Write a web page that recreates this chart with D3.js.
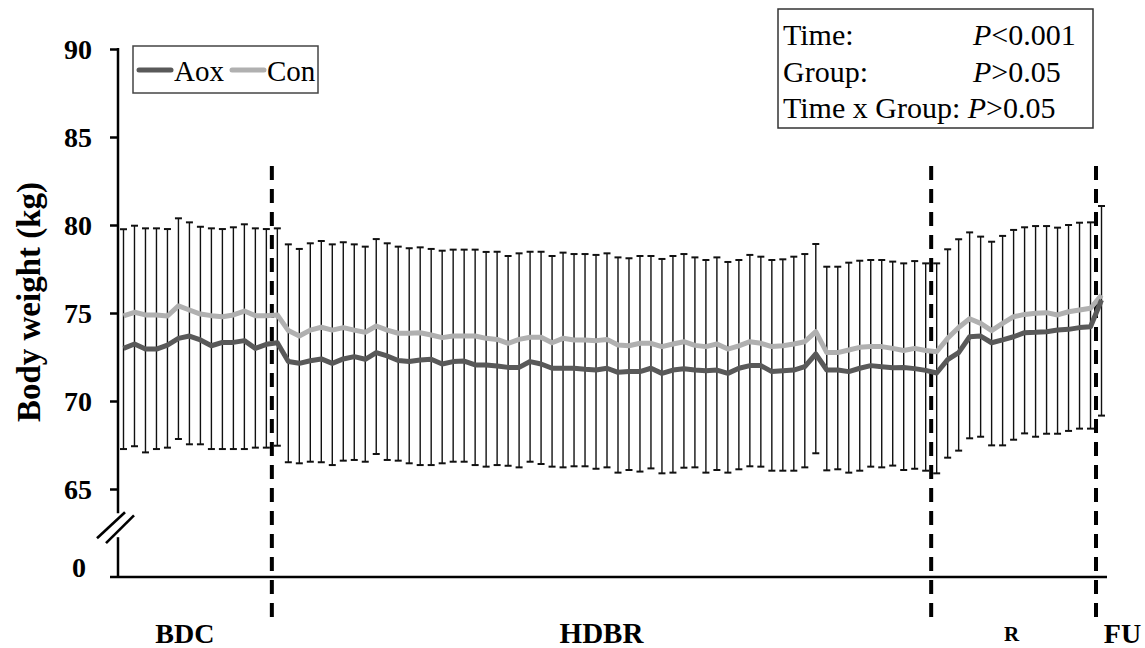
<!DOCTYPE html>
<html>
<head>
<meta charset="utf-8">
<script src="https://cdn.jsdelivr.net/npm/d3@7/dist/d3.min.js"></script>
<style>
  html, body { margin: 0; padding: 0; background: #fff; }
  svg { display: block; }
  text { font-family: "Liberation Serif", "Times New Roman", serif; fill: #000; }
</style>
</head>
<body>
<svg id="chart" width="1145" height="648"></svg>
<script>
// ---------------- DATA ----------------
const phaseNames   = ["BDC", "HDBR", "R", "FU"];
const phaseLengths = [14, 60, 15, 1];
const phaseDayStart = [-14, 1, 0, null];

// category keys, one per measurement day
const categories = [];
phaseNames.forEach((p, k) => {
  for (let d = 0; d < phaseLengths[k]; d++) {
    if (p === "FU") categories.push("FU");
    else categories.push(p + (phaseDayStart[k] + d));
  }
});

const seriesNames = ["Aox", "Con"];

const aoxMean = [
  72.99, 73.24, 72.95, 72.95, 73.18, 73.56, 73.69, 73.47, 73.14, 73.33, 73.33, 73.43, 72.99, 73.22,
  73.31, 72.24, 72.14, 72.29, 72.39, 72.14, 72.39, 72.52, 72.37, 72.75, 72.56, 72.30, 72.24, 72.33,
  72.37, 72.10, 72.24, 72.27, 72.05, 72.05, 71.99, 71.91, 71.91, 72.24, 72.10, 71.86, 71.86, 71.86,
  71.80, 71.76, 71.86, 71.63, 71.67, 71.67, 71.86, 71.57, 71.76, 71.83, 71.76, 71.72, 71.76, 71.57,
  71.86, 72.01, 72.01, 71.67, 71.72, 71.76, 71.95, 72.67, 71.76, 71.76, 71.67, 71.86, 72.01, 71.95,
  71.89, 71.90, 71.84, 71.74,
  71.59, 72.35, 72.75, 73.65, 73.69, 73.31, 73.47, 73.65, 73.88, 73.90, 73.94, 74.03, 74.07, 74.17, 74.22,
  75.74
];
const aoxSD = [
  5.72, 5.81, 5.87, 5.68, 5.83, 5.72, 6.15, 5.93, 5.87, 6.06, 6.06, 6.16, 5.64, 5.87,
  5.85, 5.72, 5.68, 5.74, 5.87, 5.78, 5.78, 5.87, 5.82, 5.76, 5.91, 5.69, 5.78, 5.97,
  6.01, 5.64, 5.69, 5.72, 5.69, 5.78, 5.63, 5.59, 5.68, 5.69, 5.68, 5.59, 5.63, 5.57,
  5.51, 5.61, 5.63, 5.70, 5.59, 5.68, 5.69, 5.68, 5.83, 5.62, 5.53, 5.79, 5.68, 5.64,
  5.74, 5.72, 5.74, 5.63, 5.68, 5.72, 5.72, 5.64, 5.70, 5.64, 5.74, 5.82, 5.74, 5.72,
  5.56, 5.82, 5.69, 5.70,
  5.70, 5.57, 5.57, 5.77, 5.72, 5.83, 5.99, 5.85, 5.72, 5.93, 5.80, 5.89, 5.77, 5.74, 5.79,
  6.57
];
const conMean = [
  74.83, 75.04, 74.89, 74.89, 74.83, 75.40, 75.17, 74.94, 74.85, 74.79, 74.89, 75.11, 74.85, 74.85,
  74.89, 74.00, 73.69, 74.03, 74.19, 74.03, 74.17, 74.03, 73.90, 74.26, 74.03, 73.85, 73.85, 73.88,
  73.75, 73.60, 73.69, 73.69, 73.69, 73.56, 73.50, 73.28, 73.50, 73.62, 73.62, 73.31, 73.56, 73.47,
  73.47, 73.43, 73.50, 73.18, 73.14, 73.28, 73.28, 73.09, 73.24, 73.37, 73.16, 73.09, 73.24, 72.95,
  73.13, 73.37, 73.28, 73.09, 73.14, 73.24, 73.37, 73.94, 72.75, 72.75, 72.90, 73.05, 73.09, 73.09,
  72.99, 72.87, 72.99, 72.87,
  72.80, 73.56, 74.18, 74.67, 74.41, 74.00, 74.41, 74.79, 74.92, 74.98, 75.02, 74.89, 75.07, 75.17, 75.27,
  76.02
];
const conSD = [
  4.93, 4.92, 4.92, 4.92, 4.94, 4.98, 4.98, 4.96, 4.96, 4.98, 4.98, 4.93, 4.96, 4.92,
  4.92, 4.90, 4.95, 4.93, 4.90, 4.87, 4.85, 4.87, 4.87, 4.94, 4.93, 4.92, 4.83, 4.85,
  4.89, 4.94, 4.91, 4.91, 4.91, 4.91, 4.98, 4.96, 4.89, 4.86, 4.86, 4.93, 4.87, 4.88,
  4.88, 4.87, 4.89, 4.98, 4.97, 4.96, 4.96, 4.98, 5.00, 4.98, 5.00, 4.92, 4.92, 4.95,
  4.88, 4.93, 4.92, 4.92, 4.91, 4.96, 4.98, 4.98, 4.88, 4.88, 4.96, 4.92, 4.92, 4.92,
  4.93, 4.95, 4.96, 4.95,
  5.02, 5.06, 5.01, 4.91, 4.93, 5.05, 4.97, 4.93, 4.95, 4.96, 4.92, 4.96, 4.93, 4.96, 4.88,
  5.06
];

const yTickValues = [65, 70, 75, 80, 85, 90];
const yBaseValue = 60;          // bottom of the axis, shown as "0" below the break
const yBaseLabel = "0";
const yBreakValue = 63;         // where the axis break is drawn
const yTitle = "Body weight (kg)";

const statsRows = [
  { label: "Time:",  p: "<0.001" },
  { label: "Group:", p: ">0.05" },
  { label: "Time x Group: ", p: ">0.05", inline: true }
];

// ---------------- LAYOUT ----------------
const svg = d3.select("#chart");
svg.append("rect").attr("width", 1145).attr("height", 648).attr("fill", "#fff");

const plot = { left: 118, right: 1107, top: 49, bottom: 577 };
const colors = { Aox: "#595959", Con: "#b0b0b0" };

const x = d3.scaleBand().domain(categories).range([plot.left, plot.right]).paddingInner(0).paddingOuter(0);
const cx = c => x(c) + x.bandwidth() / 2;
const y = d3.scaleLinear().domain([yBaseValue, 90]).range([plot.bottom, plot.top]);

const aoxData = categories.map((c, i) => ({ c, m: aoxMean[i], sd: aoxSD[i] }));
const conData = categories.map((c, i) => ({ c, m: conMean[i], sd: conSD[i] }));

// ---- phase separators (dashed) ----
const sepIdx = [];
let acc = 0;
phaseLengths.forEach((n, k) => { acc += n; if (k < phaseLengths.length - 1) sepIdx.push(acc); });
svg.append("g").selectAll("line").data(sepIdx).join("line")
  .attr("x1", i => x(categories[i])).attr("x2", i => x(categories[i]))
  .attr("y1", 166).attr("y2", 621)
  .attr("stroke", "#000").attr("stroke-width", 4)
  .attr("stroke-dasharray", "14,9");

// ---- error bars: Con + SD upward, Aox - SD downward, joined ----
const eb = svg.append("g").attr("stroke", "#111").attr("stroke-width", 1.4);
categories.forEach((c, i) => {
  const xc = cx(c);
  const top = y(conMean[i] + conSD[i]);
  const bot = y(aoxMean[i] - aoxSD[i]);
  eb.append("line").attr("x1", xc).attr("x2", xc).attr("y1", top).attr("y2", bot);
  eb.append("line").attr("x1", xc - 3.5).attr("x2", xc + 3.5).attr("y1", top).attr("y2", top).attr("stroke-width", 2);
  eb.append("line").attr("x1", xc - 3.5).attr("x2", xc + 3.5).attr("y1", bot).attr("y2", bot).attr("stroke-width", 2);
});

// ---- lines ----
const line = d3.line().x(d => cx(d.c)).y(d => y(d.m));
svg.append("path").datum(conData).attr("d", line)
  .attr("fill", "none").attr("stroke", colors.Con).attr("stroke-width", 5).attr("stroke-linejoin", "round");
svg.append("path").datum(aoxData).attr("d", line)
  .attr("fill", "none").attr("stroke", colors.Aox).attr("stroke-width", 5).attr("stroke-linejoin", "round");

// ---- y axis ----
const yAxis = d3.axisLeft(y).tickValues(yTickValues).tickSize(8).tickPadding(18).tickSizeOuter(0);
const gy = svg.append("g").attr("transform", `translate(${plot.left},0)`).call(yAxis);
gy.select(".domain").remove();
gy.selectAll(".tick line").attr("stroke", "#000").attr("stroke-width", 2.5);
gy.selectAll(".tick text")
  .attr("font-family", '"Liberation Serif", "Times New Roman", serif')
  .attr("font-size", 28).attr("font-weight", "bold").attr("fill", "#000").attr("dy", "0.34em");

// spine in two parts with a break
const breakY = y(yBreakValue);
svg.append("line").attr("x1", plot.left).attr("x2", plot.left)
  .attr("y1", y(90) - 1).attr("y2", breakY - 11).attr("stroke", "#000").attr("stroke-width", 2.5);
svg.append("line").attr("x1", plot.left).attr("x2", plot.left)
  .attr("y1", breakY + 13).attr("y2", plot.bottom).attr("stroke", "#000").attr("stroke-width", 2.5);
[0, 9].forEach(off => {
  svg.append("line")
    .attr("x1", plot.left - 21 + off).attr("y1", breakY + 14 + off * 0.55)
    .attr("x2", plot.left + 7 + off).attr("y2", breakY - 12 + off * 0.35)
    .attr("stroke", "#000").attr("stroke-width", 2.6);
});
svg.append("text").attr("x", 86).attr("y", y(yBaseValue) - 10).attr("dy", "0.34em")
  .attr("text-anchor", "end").attr("font-size", 28).attr("font-weight", "bold").text(yBaseLabel);

// ---- x axis line ----
svg.append("line").attr("x1", plot.left - 8).attr("x2", plot.right)
  .attr("y1", plot.bottom).attr("y2", plot.bottom).attr("stroke", "#000").attr("stroke-width", 2.5);

// ---- phase labels ----
const phaseLabelStyle = { BDC: { dx: -10, size: 28 }, HDBR: { dx: 0, size: 29 }, R: { dx: -2, size: 21 }, FU: { dx: 21, size: 28 } };
let start = 0;
phaseNames.forEach((p, k) => {
  const a = x(categories[start]);
  const b = x(categories[start + phaseLengths[k] - 1]) + x.bandwidth();
  start += phaseLengths[k];
  svg.append("text").attr("x", (a + b) / 2 + phaseLabelStyle[p].dx).attr("y", p === "R" ? 641 : 643)
    .attr("text-anchor", "middle").attr("font-weight", "bold").attr("font-size", phaseLabelStyle[p].size).text(p);
});

// ---- y title ----
svg.append("text").attr("transform", "translate(40,302) rotate(-90)")
  .attr("text-anchor", "middle").attr("font-weight", "bold").attr("font-size", 33).text(yTitle);

// ---- legend ----
const lg = svg.append("g");
lg.append("rect").attr("x", 133).attr("y", 46).attr("width", 185).attr("height", 47)
  .attr("fill", "#fff").attr("stroke", "#444").attr("stroke-width", 1.5);
const legendPos = [{ x: 137 }, { x: 230 }];
seriesNames.forEach((s, k) => {
  lg.append("line").attr("x1", legendPos[k].x + 2).attr("x2", legendPos[k].x + 34)
    .attr("y1", 70).attr("y2", 70).attr("stroke", colors[s]).attr("stroke-width", 5).attr("stroke-linecap", "round");
  lg.append("text").attr("x", legendPos[k].x + 37).attr("y", 81).attr("font-size", 29).text(s);
});

// ---- stats box ----
const sb = svg.append("g");
sb.append("rect").attr("x", 778).attr("y", 9).attr("width", 315).attr("height", 119)
  .attr("fill", "#fff").attr("stroke", "#333").attr("stroke-width", 1.5);
statsRows.forEach((r, k) => {
  const t = sb.append("text").attr("x", 783).attr("y", 45 + k * 36.5).attr("font-size", 30);
  t.append("tspan").text(r.label);
  const pt = t.append("tspan").attr("font-style", "italic").text("P");
  if (!r.inline) pt.attr("x", 973);
  t.append("tspan").text(r.p);
});
</script>
</body>
</html>
